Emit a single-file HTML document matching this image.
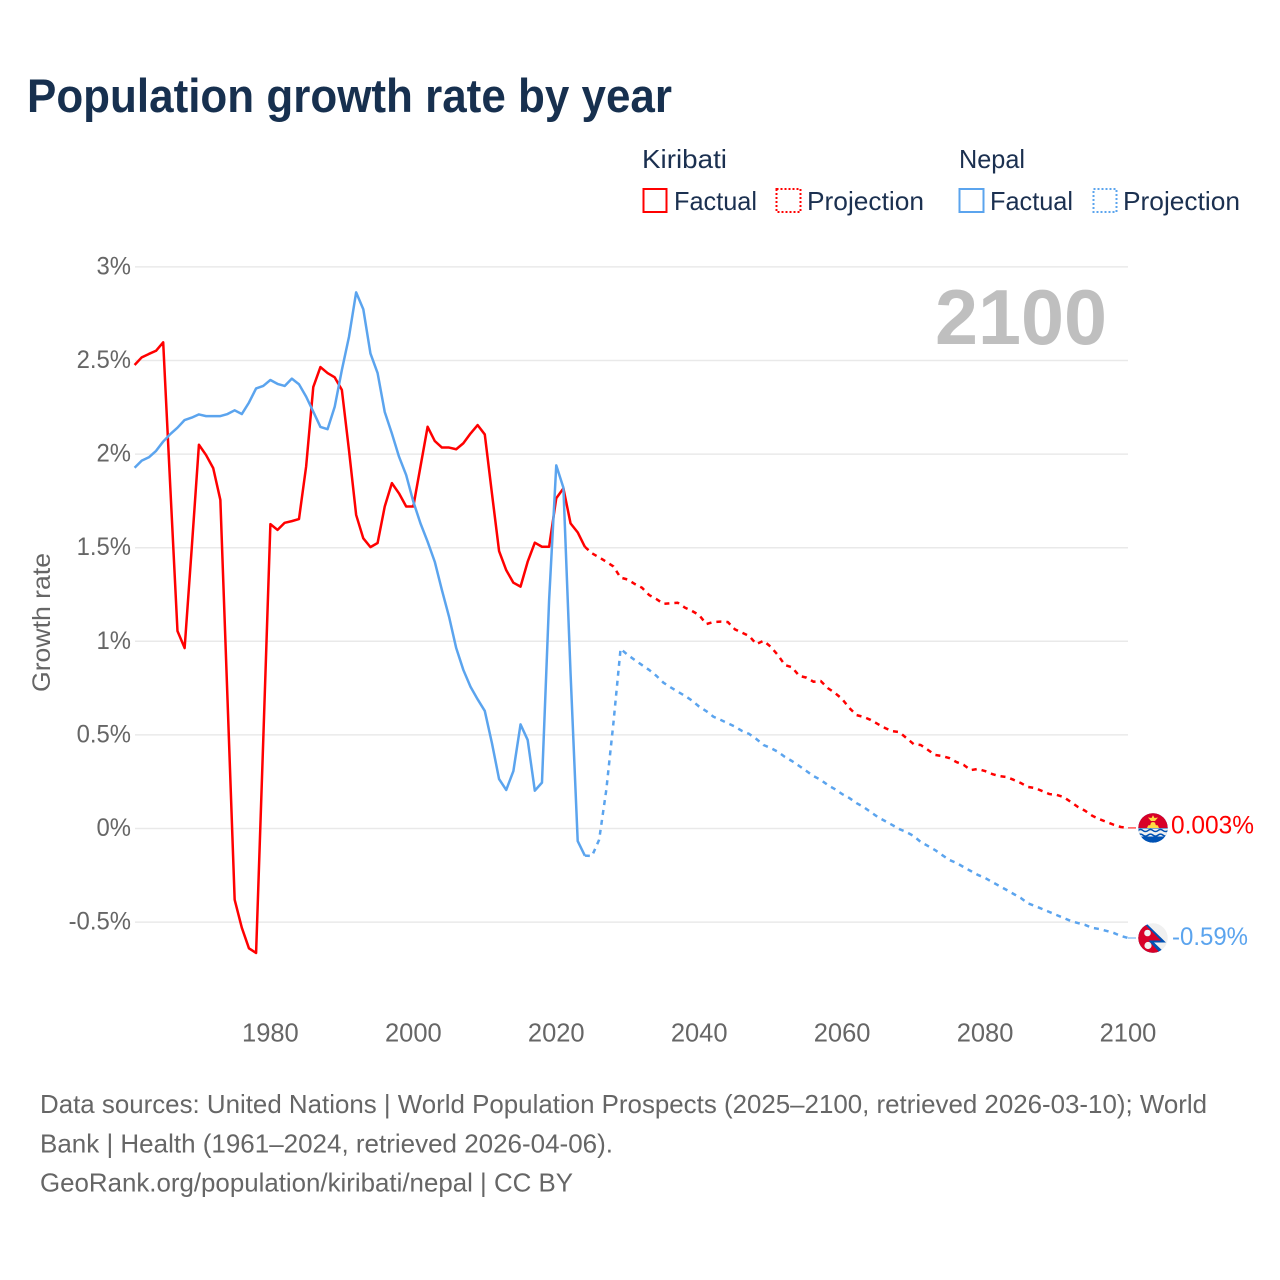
<!DOCTYPE html>
<html lang="en">
<head>
<meta charset="utf-8">
<title>Population growth rate by year</title>
<style>
html,body{margin:0;padding:0;background:#fff;width:1280px;height:1280px;overflow:hidden}
svg{display:block}
text{font-family:"Liberation Sans",sans-serif}
</style>
</head>
<body>
<svg id="chart" xmlns="http://www.w3.org/2000/svg" width="1280" height="1280" viewBox="0 0 1280 1280">
  <rect width="1280" height="1280" fill="#fff"/>
  <text x="27" y="112" font-size="47" font-weight="700" fill="#17304f" textLength="645" lengthAdjust="spacingAndGlyphs">Population growth rate by year</text>

  <g font-size="26" fill="#1b3050">
    <text x="642" y="168" textLength="85" lengthAdjust="spacingAndGlyphs">Kiribati</text>
    <text x="959" y="168" textLength="66" lengthAdjust="spacingAndGlyphs">Nepal</text>
    <rect x="643.5" y="189" width="23" height="23" fill="none" stroke="#ff0000" stroke-width="2"/>
    <text x="674" y="210" textLength="83" lengthAdjust="spacingAndGlyphs">Factual</text>
    <rect x="776.5" y="189" width="24" height="23" fill="none" stroke="#ff0000" stroke-width="2" stroke-dasharray="2 2"/>
    <text x="807" y="210" textLength="117" lengthAdjust="spacingAndGlyphs">Projection</text>
    <rect x="959.5" y="189" width="24" height="23" fill="none" stroke="#5ba4ee" stroke-width="2"/>
    <text x="990" y="210" textLength="83" lengthAdjust="spacingAndGlyphs">Factual</text>
    <rect x="1093.5" y="189" width="23" height="23" fill="none" stroke="#5ba4ee" stroke-width="2" stroke-dasharray="2 2"/>
    <text x="1123" y="210" textLength="117" lengthAdjust="spacingAndGlyphs">Projection</text>
  </g>

  <g id="grid"></g>
  <g id="yticks"></g>
  <g id="xticks"></g>

  <text transform="translate(50,692) rotate(-90)" font-size="25" fill="#666" textLength="139" lengthAdjust="spacingAndGlyphs">Growth rate</text>
  <text x="1107" y="344" font-size="78" font-weight="700" fill="#bfbfbf" text-anchor="end" textLength="172" lengthAdjust="spacingAndGlyphs">2100</text>

  <g id="series"></g>
  <g id="endcaps"></g>

  <g font-size="26" fill="#666">
    <text x="40" y="1113" textLength="1167" lengthAdjust="spacingAndGlyphs">Data sources: United Nations | World Population Prospects (2025–2100, retrieved 2026-03-10); World</text>
    <text x="40" y="1152.5" textLength="573" lengthAdjust="spacingAndGlyphs">Bank | Health (1961–2024, retrieved 2026-04-06).</text>
    <text x="40" y="1191.5" textLength="533" lengthAdjust="spacingAndGlyphs">GeoRank.org/population/kiribati/nepal | CC BY</text>
  </g>
</svg>
<script>
const factualStartYear = 1961;
const projectionStartYear = 2024;
const yTickValues = [3, 2.5, 2, 1.5, 1, 0.5, 0, -0.5];
const yTickLabels = ["3%", "2.5%", "2%", "1.5%", "1%", "0.5%", "0%", "-0.5%"];
const xTickYears = [1980, 2000, 2020, 2040, 2060, 2080, 2100];
const kiribatiFactual = [
  2.476, 2.517, 2.535, 2.552, 2.597, 1.82, 1.055, 0.964, 1.5, 2.05,
  1.995, 1.925, 1.755, 0.69, -0.38, -0.53, -0.64, -0.665, 0.47, 1.626,
  1.595, 1.633, 1.642, 1.653, 1.933, 2.358, 2.465, 2.433, 2.41, 2.343,
  2.02, 1.675, 1.55, 1.503, 1.525, 1.72, 1.845, 1.79, 1.72, 1.72,
  1.933, 2.146, 2.07, 2.035, 2.035, 2.026, 2.058, 2.11, 2.155, 2.105,
  1.79, 1.482, 1.38, 1.313, 1.292, 1.425, 1.527, 1.505, 1.505, 1.764,
  1.817, 1.63, 1.582, 1.505
];
const kiribatiProjection = [
  1.505, 1.47, 1.448, 1.425, 1.40, 1.34, 1.33, 1.306, 1.286, 1.247,
  1.226, 1.20, 1.203, 1.206, 1.18, 1.162, 1.14, 1.092, 1.103, 1.105,
  1.103, 1.064, 1.046, 1.028, 0.985, 1.003, 0.971, 0.927, 0.873, 0.861,
  0.815, 0.806, 0.784, 0.788, 0.75, 0.724, 0.692, 0.644, 0.606, 0.596,
  0.58, 0.558, 0.537, 0.52, 0.515, 0.483, 0.451, 0.446, 0.42, 0.393,
  0.387, 0.376, 0.355, 0.34, 0.312, 0.318, 0.307, 0.291, 0.28, 0.275,
  0.26, 0.243, 0.222, 0.216, 0.2, 0.184, 0.18, 0.168, 0.142, 0.115,
  0.095, 0.068, 0.05, 0.035, 0.02, 0.008, 0.003
];
const nepalFactual = [
  1.927, 1.965, 1.983, 2.017, 2.067, 2.107, 2.141, 2.182, 2.195, 2.212,
  2.203, 2.203, 2.203, 2.214, 2.234, 2.214, 2.275, 2.351, 2.364, 2.396,
  2.375, 2.364, 2.403, 2.373, 2.307, 2.227, 2.145, 2.133, 2.253, 2.449,
  2.627, 2.864, 2.774, 2.538, 2.433, 2.225, 2.11, 1.986, 1.888, 1.746,
  1.63, 1.532, 1.425, 1.274, 1.131, 0.964, 0.847, 0.757, 0.69, 0.628,
  0.456, 0.264, 0.206, 0.307, 0.556, 0.473, 0.202, 0.245, 1.22, 1.94,
  1.82, 0.83, -0.067, -0.145
];
const nepalProjection = [
  -0.145, -0.147, -0.06, 0.206, 0.564, 0.96, 0.927, 0.90, 0.873, 0.847,
  0.816, 0.779, 0.754, 0.731, 0.709, 0.683, 0.651, 0.627, 0.597, 0.58,
  0.562, 0.544, 0.521, 0.505, 0.478, 0.446, 0.43, 0.41, 0.382, 0.36,
  0.334, 0.307, 0.28, 0.26, 0.232, 0.21, 0.184, 0.163, 0.136, 0.115,
  0.088, 0.061, 0.04, 0.019, -0.003, -0.019, -0.04, -0.072, -0.093, -0.115,
  -0.142, -0.168, -0.184, -0.206, -0.227, -0.248, -0.264, -0.286, -0.307, -0.328,
  -0.35, -0.371, -0.40, -0.414, -0.43, -0.446, -0.462, -0.478, -0.494, -0.505,
  -0.515, -0.531, -0.537, -0.547, -0.558, -0.574, -0.585
];
const endLabels = ["0.003%", "-0.59%"];

const NS = "http://www.w3.org/2000/svg";
const xScale = year => 134.6 + (year - 1961) * (1128 - 134.6) / 139;
const yScale = value => 828.5 - value * 187.2;

function make(tag, attrs, parent) {
  const el = document.createElementNS(NS, tag);
  for (const k in attrs) el.setAttribute(k, attrs[k]);
  parent.appendChild(el);
  return el;
}

const gridG = document.getElementById("grid");
const yG = document.getElementById("yticks");
yTickValues.forEach((v, i) => {
  const line = make("line", {x1: 135, x2: 1128, y1: yScale(v), y2: yScale(v), stroke: "#e9e9e9", "stroke-width": 1.5}, gridG);
  
  
  const t = make("text", {x: 131, y: yScale(v) + 7.5, "text-anchor": "end", "font-size": 25, fill: "#666"}, yG);
  
  
  t.textContent = yTickLabels[i];
  t.setAttribute("textLength", (t.getComputedTextLength() * 0.955).toFixed(1));
  t.setAttribute("lengthAdjust", "spacingAndGlyphs");
});

const xG = document.getElementById("xticks");
xTickYears.forEach(year => {
  const t = make("text", {x: xScale(year), y: 1041.5, "text-anchor": "middle", "font-size": 25.5, fill: "#666"}, xG);
  
  
  t.textContent = year;
});

function pathFor(values, startYear) {
  return values.map((v, i) => (i ? "L" : "M") + xScale(startYear + i).toFixed(2) + " " + yScale(v).toFixed(2)).join("");
}

const seriesG = document.getElementById("series");
function drawSeries(values, startYear, color, dashed) {
  const p = make("path", {d: pathFor(values, startYear), fill: "none", stroke: color, "stroke-width": 2.5, "stroke-linejoin": "round"}, seriesG);
  if (dashed) p.setAttribute("stroke-dasharray", "5 5");
  return p;
}
const kp = drawSeries(kiribatiProjection, projectionStartYear, "#ff0000", true);


const np = drawSeries(nepalProjection, projectionStartYear, "#5ba4ee", true);


const kf = drawSeries(kiribatiFactual, factualStartYear, "#ff0000", false);


const nf = drawSeries(nepalFactual, factualStartYear, "#5ba4ee", false);



const capsG = document.getElementById("endcaps");
const lastKiribati = kiribatiProjection[kiribatiProjection.length - 1];
const lastNepal = nepalProjection[nepalProjection.length - 1];
const lastX = xScale(2100);

// Kiribati end marker
const kStub = make("line", {x1: lastX, x2: lastX + 8, y1: yScale(lastKiribati), y2: yScale(lastKiribati), stroke: "#ff0000", "stroke-width": 1}, capsG);


const kFlag = make("g", {transform: "translate(1153," + yScale(lastKiribati) + ")"}, capsG);


kFlag.innerHTML = '<clipPath id="kc"><circle r="14.7"/></clipPath><g clip-path="url(#kc)">' +
  '<rect x="-15" y="-15" width="30" height="30" fill="#0052b4"/>' +
  '<rect x="-15" y="-15" width="30" height="15" fill="#d80027"/>' +
  '<path d="M-6 0l1.2-2.6 2-.2.8-2.5 2-.6 2 .6.8 2.5 2 .2 1.2 2.6z" fill="#ffda44"/>' +
  '<path d="M-5 -10.5l3.5.6 1.5-2.8 1.5 2.8 3.5-.6-3 3.5h-4z" fill="#ffda44"/>' +
  '<path d="M-15 .6h30v8h-30z" fill="#f0f0f0"/>' +
  '<g fill="none" stroke="#0052b4" stroke-width="1.5">' +
  '<path d="M-15 2.6q2.5-2 5 0t5 0 5 0 5 0 5 0 5 0"/>' +
  '<path d="M-15 7.2q2.5-2 5 0t5 0 5 0 5 0 5 0 5 0"/></g>' +
  '<rect x="-15" y="9" width="30" height="6" fill="#0052b4"/>' +
  '</g>';
const kLabel = make("text", {x: 1171, y: yScale(lastKiribati) + 5.5, "font-size": 25, fill: "#ff0000", textLength: 83, lengthAdjust: "spacingAndGlyphs"}, capsG);


kLabel.textContent = endLabels[0];

// Nepal end marker
const nStub = make("line", {x1: lastX, x2: lastX + 8, y1: yScale(lastNepal), y2: yScale(lastNepal), stroke: "#5ba4ee", "stroke-width": 1}, capsG);


const nFlag = make("g", {transform: "translate(1153," + yScale(lastNepal) + ")"}, capsG);


nFlag.innerHTML = '<clipPath id="nc"><circle r="14.7"/></clipPath><g clip-path="url(#nc)">' +
  '<rect x="-15" y="-15" width="30" height="30" fill="#f0f0f0"/>' +
  '<path d="M-15 -15h8l20 19.5h-12l12 11.5h-28z" fill="#0052b4"/>' +
  '<path d="M-15 -15h5.5l17.5 17.5h-12.5l12.5 13.5h-23z" fill="#d80027"/>' +
  '<circle cx="-5.5" cy="-5" r="3.3" fill="#f0f0f0"/>' +
  '<circle cx="-5" cy="7.5" r="3.6" fill="#f0f0f0"/>' +
  '</g>';
const nLabel = make("text", {x: 1172, y: yScale(lastNepal) + 7, "font-size": 25, fill: "#5ba4ee", textLength: 76, lengthAdjust: "spacingAndGlyphs"}, capsG);


nLabel.textContent = endLabels[1];
</script>
</body>
</html>
